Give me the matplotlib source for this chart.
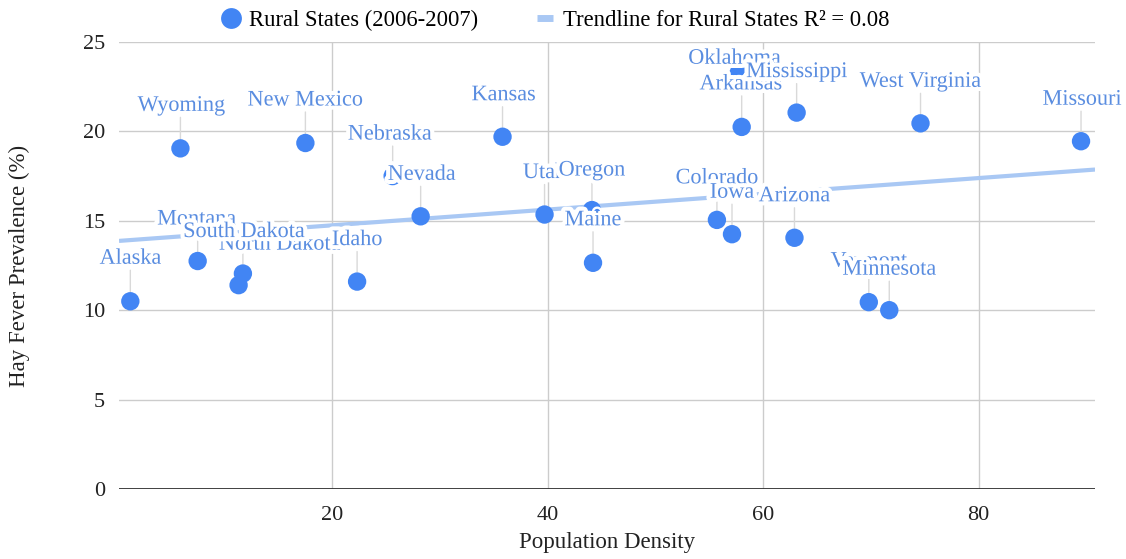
import numpy as np
import matplotlib
matplotlib.use("Agg")
import matplotlib.pyplot as plt
from matplotlib.lines import Line2D
import matplotlib.patheffects as pe

plt.rcParams['font.family'] = ['Liberation Serif', 'DejaVu Serif']

# data (draw order matters for overlapping labels)
states = ['Alaska', 'Wyoming', 'Montana', 'North Dakota', 'South Dakota', 'Idaho',
          'New Mexico', 'Nebraska', 'Nevada', 'Kansas', 'Utah', 'Oregon', 'Maine',
          'Colorado', 'Iowa', 'Arizona', 'Oklahoma', 'Arkansas', 'Mississippi',
          'West Virginia', 'Missouri', 'Vermont', 'Minnesota']
density = [1.25, 5.9, 7.5, 11.3, 11.7, 22.3,
           17.5, 25.6, 28.2, 35.8, 39.7, 44.1, 44.2,
           55.7, 57.1, 62.9, 57.7, 58.0, 63.1,
           74.6, 89.5, 69.8, 71.7]
hay_fever = [10.5, 19.05, 12.75, 11.4, 12.05, 11.6,
             19.35, 17.5, 15.25, 19.7, 15.35, 15.6, 12.65,
             15.05, 14.25, 14.05, 23.25, 20.25, 21.05,
             20.45, 19.45, 10.45, 10.0]

# label offsets from point, in pixels (dx, dy; dy negative = up)
label_offsets = {
    'Alaska': (0, -42), 'Wyoming': (1, -42), 'Montana': (-1, -41),
    'South Dakota': (1, -41), 'North Dakota': (41, -40), 'Idaho': (0, -41),
    'New Mexico': (0, -42), 'Nebraska': (-3, -41), 'Nevada': (1, -41),
    'Kansas': (1, -41), 'Utah': (0, -41), 'Oregon': (0, -39), 'Maine': (0, -42),
    'Colorado': (0, -41), 'Iowa': (0, -41), 'Arizona': (0, -41),
    'Oklahoma': (-4, -14), 'Arkansas': (-1, -42), 'Mississippi': (0, -40),
    'West Virginia': (0, -41), 'Missouri': (1, -41), 'Vermont': (0, -40),
    'Minnesota': (0, -40),
}

x = np.array(density)
y = np.array(hay_fever)
slope, intercept = np.polyfit(x, y, 1)
r2 = np.corrcoef(x, y)[0, 1] ** 2

fig = plt.figure(figsize=(11.26, 5.59), dpi=100)
ax = fig.add_axes([0.1057, 0.1252, 0.8668, 0.7997])

xmin, xmax = 0.2, 90.8
ax.set_xlim(xmin, xmax)
ax.set_ylim(0, 25)

point_color = '#4285f4'
label_color = '#5a8de0'
trend_color = '#a9c8f4'

# trendline
xt = np.array([xmin, xmax])
ax.plot(xt, slope * xt + intercept, color=trend_color, lw=3, zorder=2, solid_capstyle='butt')

px2pt = 0.72
for name, xi, yi in zip(states, density, hay_fever):
    dx, dy = label_offsets[name]
    if abs(dx) < 10 and dy < -25:
        # leader line from point up to label
        ax.annotate('', xy=(xi, yi), xytext=(0, (dy + 11) * -px2pt), textcoords='offset points',
                    arrowprops=dict(arrowstyle='-', color='#d9d9d9', lw=1, shrinkA=0, shrinkB=0),
                    zorder=1.5)

ax.scatter(x, y, s=175, color=point_color, edgecolors='none', zorder=3)

for name, xi, yi in zip(states, density, hay_fever):
    dx, dy = label_offsets[name]
    ax.annotate(name, xy=(xi, yi), xytext=(dx * px2pt, -dy * px2pt), textcoords='offset points',
                ha='center', va='center', fontsize=16, color=label_color, zorder=4,
                path_effects=[pe.withStroke(linewidth=6, foreground='white')])

# grid & axes
ax.set_xticks([20, 40, 60, 80])
ax.set_yticks([0, 5, 10, 15, 20, 25])
ax.grid(True, color='#cccccc', lw=1)
ax.set_axisbelow(True)
for s in ax.spines.values():
    s.set_visible(False)
ax.axhline(0, color='#333333', lw=1.3, zorder=1)
ax.tick_params(length=0, labelsize=16, colors='#222222')
ax.tick_params(axis='x', pad=12)
ax.tick_params(axis='y', pad=10)

ax.set_xlabel('Population Density', fontsize=16.5, color='#222222', labelpad=5)
ax.set_ylabel('Hay Fever Prevalence (%)', fontsize=16.5, color='#222222')
ax.yaxis.set_label_coords(-0.091, 0.5)

handles = [
    Line2D([], [], marker='o', ls='none', markersize=15, color=point_color, markeredgewidth=0),
    Line2D([], [], color=trend_color, lw=5, solid_capstyle='butt'),
]
labels = ['Rural States (2006-2007)', 'Trendline for Rural States R² = %.2f' % r2]
fig.legend(handles, labels, loc='center', bbox_to_anchor=(0.494, 0.963), ncol=2, frameon=False,
           fontsize=16.3, handlelength=0.7, handletextpad=0.45, columnspacing=2.6)

fig.savefig('out.png', dpi=100)
